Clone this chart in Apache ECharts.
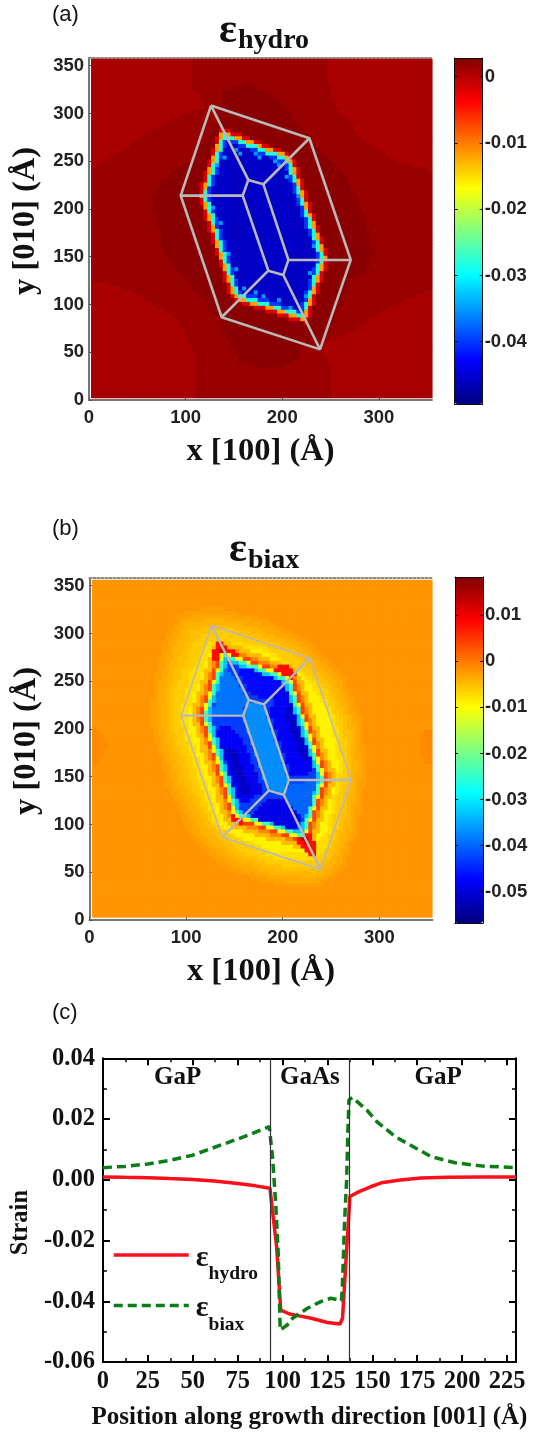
<!DOCTYPE html>
<html><head><meta charset="utf-8">
<style>html,body{margin:0;padding:0;background:#fff}#c{width:539px;height:1434px}</style>
<script src="https://cdn.jsdelivr.net/npm/echarts@6/dist/echarts.min.js"></script>
</head><body><div id="c"></div>
<script>
// ---------- Panel (c) profiles ----------
const hydroX=[0,12,25,37,50,62,75,85,93,96.7,99,104,110,116,125,132,133.4,137.5,142.6,149,155,165.6,177,192,210,230];
const hydroY=[.0009,.0008,.0007,.0004,.0001,-.0004,-.0012,-.002,-.0028,-.022,-.0429,-.0442,-.0449,-.0456,-.047,-.0475,-.0456,-.0055,-.0039,-.0023,-.001,-.0001,.0006,.0008,.0009,.0009];
const biaxX=[0,12,25,37,50,66,81,92.6,94.5,96.3,97.6,98.2,98.7,103.7,105.6,113.9,121.3,126.9,132.8,133.3,134.6,135.7,136.4,137,138.9,147,152.6,162.8,169.4,182.8,196.2,211.6,230];
const biaxY=[.004,.0044,.0052,.0064,.0081,.0115,.0147,.0175,.0071,-.0089,-.0242,-.0385,-.0495,-.0473,-.0456,-.0423,-.0401,-.039,-.0398,-.0352,-.0132,0,.0164,.0263,.0271,.0229,.0191,.0142,.012,.0076,.0056,.0045,.004];
const regionNames=['GaP','GaAs','GaP'];
const regionX=[41.6,115.2,186.6];
const regionY=[.0335,.0335,.0335];
const interfaces=[93,137];

// ---------- Panels (a),(b): wireframe vertices in angstrom ----------
const wireOuter=[[126.3,308.2],[228.1,274],[270.9,146.6],[239.1,53],[137.3,86.6],[94.9,213.9]];
const wireInner=[[164.9,230.4],[180.5,225.8],[206.4,146.6],[201.1,130.9],[185.6,135.4],[159.1,213.9]];

const hexP14=[131,295.8,208.9,266,219.9,254.5,256,148.7,230.5,70.5,148.6,96.4,138.5,106.8,105.4,214.7];
const hexP9=[134.1,289.3,206.4,261.5,215.7,251.5,250.7,148.7,227.3,76.8,151.4,100.9,143,109.8,110.7,214.7];
const hexP7=[135.4,286.7,205.4,259.7,214,250.3,248.6,148.7,226,79.2,152.5,102.7,144.8,111,112.8,214.7];
const hexP6=[136,285.4,204.9,258.8,213.1,249.7,247.6,148.7,225.3,80.5,153,103.6,145.7,111.6,113.8,214.7];
const hexP4=[137.3,282.7,203.9,257,211.4,248.5,245.4,148.7,224.1,83,154.1,105.4,147.5,112.8,115.9,214.7];
const hexP3=[137.9,281.4,203.4,256.1,210.6,247.9,244.4,148.7,223.4,84.3,154.7,106.3,148.4,113.4,117,214.7];
const hexP15=[138.9,279.5,202.7,254.8,209.3,247,242.8,148.7,222.5,86.1,155.5,107.7,149.8,114.3,118.5,214.7];
const hexP1=[139.2,278.8,202.4,254.3,208.9,246.7,242.3,148.7,222.1,86.8,155.8,108.1,150.2,114.6,119.1,214.7];
const hexM2=[141.1,274.9,200.9,251.6,206.3,244.9,239.1,148.7,220.2,90.5,157.4,110.8,152.9,116.4,122.2,214.7];
const hexM5=[143,271,199.4,248.9,203.8,243.1,235.9,148.7,218.3,94.2,159.1,113.5,155.6,118.2,125.4,214.7];

const hydroBand=[106.8,360,248,360,248,335,253.3,310.6,285.5,272,317.6,251,360,239,360,120,299.8,90.8,271.2,69.8,239,59.3,251.5,31.4,252.6,0,111,0,110.4,48.9,92.5,83.8,49.7,111.7,21,122,0,122,0,240.8,49.7,272,92.5,298,121,307,108.6,324.6];
const hydroBlob=[140.8,324.6,164,331.6,192.6,317.6,216.9,289.7,237.2,263.5,264,237.3,285.5,195.5,294.4,153.6,285.5,130.9,271.2,127.4,249.7,69.8,219.4,55.8,220.4,43.6,192.6,33.2,156.8,38.4,144.3,62.8,131.8,87.3,106.8,118.7,78.2,153.6,65.7,209.4,74.7,228.6,99.7,247.8,121,272.3,135.4,300.2];
const hydroSpecks=[[154.6,261.8],[158.1,260],[171.9,256.5],[177,255.5],[192.6,249.5],[197.8,246],[206.4,235.6],[216.7,212.9],[139.1,254.8],[133.9,246],[130.5,202.4],[137.4,185],[144.3,151.8],[151.2,136.1],[159.8,116.9],[171.9,111.7],[182.2,108.2],[197.8,103],[209.8,96],[223.6,108.2],[227.1,134.4],[232.3,160.5]];
const hydroBase=0.0007;
const hydroSpeckValue=-0.035;
const hydroLayers=[[.0015,hydroBand],[.0023,hydroBlob],[-.002,hexP7],[-.012,hexP4],[-.028,hexP15],[-.04,hexM2],[-.0457,hexM5]];

const biaxEdgeL=[0,205.9,15.2,195.5,17.7,181.5,11.6,167.5,0,157];
const biaxEdgeR=[360,205.9,343.9,195.5,341.4,181.5,345.7,167.5,360,157];
const biaxC1=[117,326.4,92,319.4,77.7,293.2,65.2,244.3,64.1,202.4,81.3,139.6,106.3,83.8,142,52.4,192,36.6,238.5,33.2,263.5,52.4,277.8,90.8,287.8,160.6,281.4,212.9,263.5,258.3,227.8,293.2,177.7,317.6,134.9,326.4];
const biaxC15=[118.8,320.3,95.6,315,83.1,289.7,71.5,244.3,70,202.4,86.6,141.4,111.6,87.3,145.6,57.6,192,41.9,236.7,38.4,259,55.9,273.3,92.5,282.8,160.6,276.9,211.2,259,254.8,224.2,288.9,177.7,311.4,136.7,320.3];
const biaxC2=[120.6,314.1,99.2,310.6,88.4,286.1,77.7,244.3,75.9,202.4,91.9,143.1,116.9,90.8,149.2,62.8,192,47.1,234.9,43.6,254.5,59.3,268.8,94.2,277.8,160.6,272.4,209.4,254.5,251.3,220.5,284.5,177.7,305.1,138.4,314.1];
const biaxC25=[122.4,308.9,104.5,301.9,93.8,277.5,83,242.6,81.3,202.4,98.2,144.9,120.5,97.8,151,68,192,52.4,233.1,48.9,250.1,62.8,263.5,96,272.8,160.6,268,207.7,250.1,247.8,217,280.1,177.7,299.2,140.2,308.9];
const biaxC3=[124.1,303.7,109.8,293.2,99.2,268.8,88.4,240.8,86.6,202.4,104.5,146.6,124.1,104.7,152.8,73.3,192,57.6,231.3,54.1,245.6,66.3,258.1,97.7,267.7,160.6,263.5,205.9,245.6,244.3,213.4,275.7,177.7,293.2,142,303.7];
const biaxC35=[124,293,104,256,94,215,112,146,131,99,192,64,230,62,246,78,263,160,256,211,233,251,178,288];
const biaxC4=[125.9,282.7,109.8,240.8,100.9,209.4,120.6,146.6,138.4,94.2,192,71.2,227.8,71.2,245.6,90.8,258.1,160.6,249.2,216,220.5,258.3,177.7,282.7];
const biaxCornerA=[132.2,293.2,127,279.2,128.7,270.5,144.3,274,158.1,274,149.5,282.7];
const biaxCornerA2=[135.7,284.4,133.9,275.7,144.3,275,142.6,280.9];
const biaxCornerE=[216.7,90.7,215,83.8,221.9,73.3,232.3,66.3,235.7,76.8,228.8,90.7];
const biaxCornerE2=[220.2,87.2,221.9,78.5,228.8,76.8,225.4,87.2];
const biaxCornerC=[190.8,261.7,199.5,253,208.1,247.8,216.7,258.3,208.1,265.2,197.8,267];
const biaxCornerF=[146,115.2,146,104.7,158.1,99.5,166.7,108.2,154.6,111.7];
const biaxLeft=[130.5,199,154.6,122.1,165,122.1,180.5,136.1,158.1,192,142.6,205.9];
const biaxLeft2=[139.1,181.5,158.1,129.1,168.4,132.6,151.2,178];
const biaxRight=[202.9,244.3,232.3,160.5,225.4,150,209.8,150,187.4,216.4,192.6,233.8];
const biaxRight2=[208.1,226.8,228.8,167.5,218.5,171,201.2,216.4];
const biaxTop=[161.5,265.2,201.2,249.5,199.5,240.8,182.2,232.1,166.7,235.6,154.6,260];
const biaxBottom=[166.7,108.2,211.6,94.2,221.9,108.2,203,125.6,187.4,129.1];
const biaxCentre=[164.9,230.4,180.5,225.8,206.4,146.6,201.1,130.9,185.6,135.4,159.1,213.9];
const biaxLightUL=[139.1,265.2,158.1,244.3,163.2,232.1,159.8,216.4,127,216.4];
const biaxLightLR=[206.4,143.1,235.7,146.6,228.8,118.7,221.9,104.7,201.2,129.1];
const biaxBase=-0.002;
const biaxLayers=[[-.0012,biaxEdgeL],[-.0012,biaxEdgeR],[-.0028,biaxC1],[-.0036,biaxC15],[-.0044,biaxC2],[-.0052,biaxC25],[-.0062,biaxC3],[-.0075,biaxC35],[-.009,biaxC4],[-.005,hexP14],[-.001,hexP9],[.004,hexP6],[.008,biaxCornerA],[.008,biaxCornerE],[.008,biaxCornerC],[.008,biaxCornerF],[.014,biaxCornerA2],[.014,biaxCornerE2],[-.01,hexP3],[-.024,hexP1],[-.033,hexM2],[-.043,hexM5],[-.048,biaxLeft],[-.048,biaxRight],[-.047,biaxTop],[-.049,biaxBottom],[-.0515,biaxLeft2],[-.0515,biaxRight2],[-.037,biaxCentre],[-.039,biaxLightUL],[-.04,biaxLightLR]];

// ---------- Colour scales ----------
const JET=['#00007f','#0000ff','#0080ff','#00ffff','#80ff80','#ffff00','#ff8000','#ff0000','#800000'];
const hydroRange=[-0.0494,0.0028], biaxRange=[-0.0568,0.0183];
const hydroTicks=[0,-0.01,-0.02,-0.03,-0.04];
const biaxTicks=[0.01,0,-0.01,-0.02,-0.03,-0.04,-0.05];

const CELLS=88;
function inside(x,y,p){let c=false;for(let i=0,j=p.length-2;i<p.length;j=i,i+=2){
  const xi=p[i],yi=p[i+1],xj=p[j],yj=p[j+1];
  if((yi>y)!==(yj>y)&&x<(xj-xi)*(y-yi)/(yj-yi)+xi)c=!c;}return c;}
function cells(base,layers,ext,specks,speckV){
  const out=[],dx=(ext[1]-ext[0])/CELLS,dy=(ext[3]-ext[2])/CELLS;
  const at={};
  (specks||[]).forEach(s=>{at[Math.floor((s[0]-ext[0])/dx)+'_'+Math.floor((s[1]-ext[2])/dy)]=1;});
  for(let j=0;j<CELLS;j++)for(let i=0;i<CELLS;i++){
    const x=ext[0]+(i+.5)*dx,y=ext[2]+(j+.5)*dy;let v=base;
    for(const l of layers)if(inside(x,y,l[1]))v=l[0];
    if(at[i+'_'+j])v=speckV;
    out.push([i,j,v]);}
  return out;}
const idx=Array.from({length:CELLS},(_,i)=>String(i));
const hydroCells=cells(hydroBase,hydroLayers,[2.4,355,2.1,357],hydroSpecks,hydroSpeckValue);
const biaxCells=cells(biaxBase,biaxLayers,[2.9,355,2.8,356]);
const GAP=['-','-'];
function outerPath(){return wireOuter.concat([wireOuter[0]]);}
function innerPath(){const d=wireInner.concat([wireInner[0],GAP]);
  wireOuter.forEach((q,i)=>{d.push(q);d.push(wireInner[i]);d.push(GAP);});
  return d;}

const SERIF='"Liberation Serif"',SANS='"Liberation Sans"';
const grid=[],xAxis=[],yAxis=[],series=[],visualMap=[],title=[];
function text(t,l,tp,size,fam,weight){title.push({text:t,left:l,top:tp,padding:0,textStyle:{fontFamily:fam,fontSize:size,fontWeight:weight||'bold',color:'#111'}});}

function mapPanel(o){
  const gh=grid.length; grid.push(Object.assign({show:true,borderWidth:0,backgroundColor:o.fill},o.heat));
  const gv=grid.length; grid.push(o.val);
  const gb=grid.length; grid.push(o.bar);
  const xh=xAxis.length; xAxis.push({gridIndex:gh,type:'category',data:idx,show:false});
  const yh=yAxis.length; yAxis.push({gridIndex:gh,type:'category',data:idx,show:false});
  const lab={fontFamily:SANS,fontWeight:'bold',fontSize:18.5,color:'#222',showMaxLabel:false};
  const xv=xAxis.length;
  xAxis.push({gridIndex:gv,type:'value',position:'bottom',min:0,max:355,interval:100,splitLine:{show:false},
    axisLine:{onZero:false,lineStyle:{color:'#777',width:2}},axisTick:{inside:true,length:3,lineStyle:{color:'#555'}},
    axisLabel:Object.assign({margin:8},lab),name:'x [100] (Å)',nameLocation:'middle',nameGap:o.xGap,
    nameTextStyle:{fontFamily:SERIF,fontWeight:'bold',fontSize:32.5,color:'#111'}});
  xAxis.push({gridIndex:gv,type:'value',position:'top',min:0,max:355,interval:100,splitLine:{show:false},
    axisLine:{onZero:false,lineStyle:{color:'#888',width:2,type:[2,2]}},axisTick:{show:false},axisLabel:{show:false}});
  const yv=yAxis.length;
  yAxis.push({gridIndex:gv,type:'value',position:'left',min:0,max:358,interval:50,splitLine:{show:false},
    axisLine:{onZero:false,lineStyle:{color:'#777',width:2}},axisTick:{inside:true,length:3,lineStyle:{color:'#555'}},
    axisLabel:Object.assign({margin:5},lab),name:'y [010] (Å)',nameLocation:'middle',nameGap:o.yGap,
    nameTextStyle:{fontFamily:SERIF,fontWeight:'bold',fontSize:32.5,color:'#111',padding:[0,0,0,16]}});
  const black={lineStyle:{color:'#111',width:1}};
  [['top'],['bottom']].forEach(p=>xAxis.push({gridIndex:gb,type:'value',position:p[0],min:0,max:1,z:6,splitLine:{show:false},
    axisLine:Object.assign({onZero:false},black),axisTick:{show:false},axisLabel:{show:false}}));
  yAxis.push({gridIndex:gb,type:'value',position:'right',min:o.range[0],max:o.range[1],z:6,splitLine:{show:false},
    axisLine:Object.assign({onZero:false},black),axisTick:{inside:true,length:3,customValues:o.ticks,lineStyle:{color:'#111'}},
    axisLabel:{customValues:o.ticks,margin:2,fontFamily:SANS,fontWeight:'bold',fontSize:18.5,color:'#222',
      formatter:v=>Math.abs(v)<1e-9?'0':v.toFixed(2)}});
  yAxis.push({gridIndex:gb,type:'value',position:'left',min:o.range[0],max:o.range[1],z:6,splitLine:{show:false},
    axisLine:Object.assign({onZero:false},black),axisTick:{inside:true,length:3,customValues:o.ticks,lineStyle:{color:'#111'}},axisLabel:{show:false}});
  const si=series.length;
  series.push({type:'heatmap',name:o.name,xAxisIndex:xh,yAxisIndex:yh,data:o.data,progressive:0,animation:false,silent:true,emphasis:{disabled:true}});
  series.push({type:'line',name:'wireframe outer',xAxisIndex:xv,yAxisIndex:yv,data:outerPath(),symbol:'none',animation:false,silent:true,z:5,
    lineStyle:{color:'#b9b9b9',width:o.wireOuterW}});
  series.push({type:'line',name:'wireframe inner',xAxisIndex:xv,yAxisIndex:yv,data:innerPath(),symbol:'none',animation:false,silent:true,z:5,
    lineStyle:{color:'#b9b9b9',width:o.wireInnerW},connectNulls:false});
  visualMap.push({type:'continuous',seriesIndex:si,dimension:2,min:o.range[0],max:o.range[1],inRange:{color:JET},
    left:o.bar.left,top:o.bar.top,itemWidth:o.bar.width,itemHeight:o.bar.height,padding:0,calculable:false,hoverLink:false,show:true,z:4});
}

mapPanel({name:'hydrostatic strain map',data:hydroCells,range:hydroRange,ticks:hydroTicks,wireOuterW:2.6,wireInnerW:2.6,xGap:35,yGap:41,fill:'#a90000',
  heat:{left:91.3,top:59,width:340.9,height:339},
  val:{left:89,top:58,width:343,height:342},
  bar:{left:454.7,top:58,width:28,height:346}});
mapPanel({name:'biaxial strain map',data:biaxCells,range:biaxRange,ticks:biaxTicks,wireOuterW:1.6,wireInnerW:2.4,xGap:35,yGap:41,fill:'#ff9500',
  heat:{left:92.3,top:580,width:339.9,height:337.3},
  val:{left:89.5,top:578,width:343,height:342},
  bar:{left:455,top:577,width:28,height:346}});

// ---------- Panel (c) ----------
const gc=grid.length; grid.push({left:101.6,top:1058.3,width:414.4,height:303.7});
const tick={inside:true,length:7,lineStyle:{color:'#000',width:2}};
const minor={show:true,splitNumber:2,length:4,lineStyle:{color:'#000',width:1.5}};
const line={onZero:false,lineStyle:{color:'#000',width:2}};
const clab={fontFamily:SERIF,fontWeight:'bold',fontSize:24.5,color:'#111'};
const xc=xAxis.length;
xAxis.push({gridIndex:gc,type:'value',position:'bottom',min:0,max:230,interval:25,splitLine:{show:false},axisLine:line,axisTick:tick,minorTick:minor,
  axisLabel:Object.assign({margin:7,showMaxLabel:false},clab),name:'Position along growth direction [001] (Å)',nameLocation:'middle',nameGap:43,
  nameTextStyle:{fontFamily:SERIF,fontWeight:'bold',fontSize:25,color:'#111'}});
xAxis.push({gridIndex:gc,type:'value',position:'top',min:0,max:230,interval:25,splitLine:{show:false},axisLine:line,axisTick:tick,minorTick:minor,axisLabel:{show:false}});
const yc=yAxis.length;
yAxis.push({gridIndex:gc,type:'value',position:'left',min:-0.06,max:0.04,interval:0.02,splitLine:{show:false},axisLine:line,axisTick:tick,minorTick:minor,
  axisLabel:Object.assign({margin:8,formatter:v=>v.toFixed(2)},clab),name:'Strain',nameLocation:'middle',nameGap:68,
  nameTextStyle:{fontFamily:SERIF,fontWeight:'bold',fontSize:24.5,color:'#111',padding:[0,25,0,0]}});
yAxis.push({gridIndex:gc,type:'value',position:'right',min:-0.06,max:0.04,interval:0.02,splitLine:{show:false},axisLine:line,axisTick:tick,minorTick:minor,axisLabel:{show:false}});
series.push({type:'line',name:'εbiax',xAxisIndex:xc,yAxisIndex:yc,symbol:'none',animation:false,z:4,
  data:biaxX.map((x,i)=>[x,biaxY[i]]),lineStyle:{color:'#0a7d14',width:3.5,type:[9,5]},itemStyle:{color:'#0a7d14'}});
series.push({type:'line',name:'εhydro',xAxisIndex:xc,yAxisIndex:yc,symbol:'none',animation:false,z:3,
  data:hydroX.map((x,i)=>[x,hydroY[i]]),lineStyle:{color:'#fb0f1a',width:3.5},itemStyle:{color:'#fb0f1a'},
  markLine:{silent:true,symbol:'none',animation:false,label:{show:false},lineStyle:{color:'#333',width:1.2,type:'solid'},
    data:interfaces.map(v=>({xAxis:v}))}});
series.push({type:'scatter',name:'regions',xAxisIndex:xc,yAxisIndex:yc,symbolSize:0,animation:false,silent:true,itemStyle:{opacity:1},
  data:regionX.map((x,i)=>[x,regionY[i],regionNames[i]]),
  label:{show:true,position:'inside',formatter:p=>p.value[2],fontFamily:SERIF,fontWeight:'bold',fontSize:25,color:'#111'}});

// ---------- Titles ----------
text('(a)',52,4,22,SANS,'normal');
text('(b)',52,518,22,SANS,'normal');
text('(c)',52,1002,22,SANS,'normal');
text('ε',219,10,42,SERIF);
text('hydro',238,27,28,SERIF);
text('ε',229,529,42,SERIF);
text('biax',248,547,28,SERIF);

const chart=echarts.init(document.getElementById('c'),null,{renderer:'canvas'});
chart.setOption({animation:false,backgroundColor:'#fff',title,grid,xAxis,yAxis,series,visualMap,
  legend:{data:[{name:'εhydro',itemStyle:{opacity:0},lineStyle:{width:3.5}},{name:'εbiax',itemStyle:{opacity:0},lineStyle:{width:3.5}}],
    orient:'vertical',left:112,top:1243,itemWidth:75,itemHeight:10,itemGap:9.5,padding:0,selectedMode:false,
    formatter:n=>'{e|ε}{s|'+n.slice(1)+'}',
    textStyle:{rich:{e:{fontFamily:SERIF,fontWeight:'bold',fontSize:30,color:'#111',padding:[6,0,0,2]},
                     s:{fontFamily:SERIF,fontWeight:'bold',fontSize:19.5,color:'#111',padding:[38,0,0,0]}}}}});
</script></body></html>
